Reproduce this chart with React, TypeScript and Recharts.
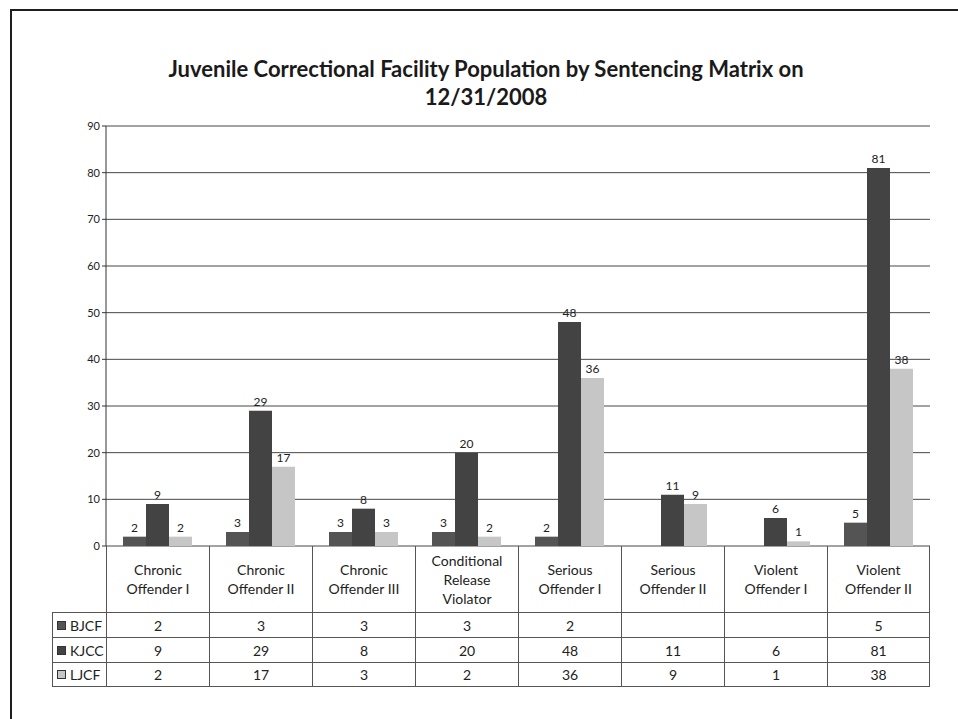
import { Bar, BarChart, CartesianGrid, LabelList, XAxis, YAxis } from 'recharts';

const categories = [
  'Chronic\nOffender I',
  'Chronic\nOffender II',
  'Chronic\nOffender III',
  'Conditional\nRelease\nViolator',
  'Serious\nOffender I',
  'Serious\nOffender II',
  'Violent\nOffender I',
  'Violent\nOffender II',
];
const bjcf = [2, 3, 3, 3, 2, null, null, 5];
const kjcc = [9, 29, 8, 20, 48, 11, 6, 81];
const ljcf = [2, 17, 3, 2, 36, 9, 1, 38];
const yTicks = [0, 10, 20, 30, 40, 50, 60, 70, 80, 90];

const series = [
  { key: 'BJCF', values: bjcf, color: '#545454' },
  { key: 'KJCC', values: kjcc, color: '#434343' },
  { key: 'LJCF', values: ljcf, color: '#c6c6c6' },
];

const data = categories.map((name, i) => ({
  name,
  BJCF: bjcf[i],
  KJCC: kjcc[i],
  LJCF: ljcf[i],
}));

// plot box (page px)
const W = 958;
const H = 719;
const plotLeft = 106;
const plotRight = 930;
const plotTop = 126;
const plotBottom = 546;
const band = (plotRight - plotLeft) / categories.length;
const legendLeft = 52;
const catRowBottom = 612;
const rowH = 25;
const font = 'Lato, "Open Sans", sans-serif';
const lineColor = '#555';

const showValue = (v: any) => (v === null || v === undefined ? '' : v);

function DataTable() {
  const cells: any[] = [];
  // category row
  categories.forEach((c, i) => {
    cells.push(
      <div
        key={'c' + i}
        style={{
          position: 'absolute',
          left: plotLeft + i * band,
          top: plotBottom,
          width: band,
          height: catRowBottom - plotBottom,
          borderLeft: `1px solid ${lineColor}`,
          borderRight: i === categories.length - 1 ? `1px solid ${lineColor}` : undefined,
          boxSizing: 'border-box',
          display: 'flex',
          alignItems: 'center',
          justifyContent: 'center',
          textAlign: 'center',
          whiteSpace: 'pre-line',
          fontSize: 14,
          lineHeight: '19px',
          color: '#222',
        }}
      >
        {c}
      </div>
    );
  });
  series.forEach((s, r) => {
    const top = catRowBottom + r * rowH;
    cells.push(
      <div
        key={'l' + r}
        style={{
          position: 'absolute',
          left: legendLeft,
          top,
          width: plotLeft - legendLeft,
          height: rowH,
          borderLeft: `1px solid ${lineColor}`,
          borderTop: `1px solid ${lineColor}`,
          borderBottom: r === series.length - 1 ? `1px solid ${lineColor}` : undefined,
          boxSizing: 'border-box',
          display: 'flex',
          alignItems: 'center',
          paddingLeft: 4,
          fontSize: 14,
          color: '#222',
        }}
      >
        <span
          style={{
            display: 'inline-block',
            width: 7,
            height: 7,
            background: s.color,
            border: '1px solid #333',
            marginRight: 4,
          }}
        />
        {s.key}
      </div>
    );
    s.values.forEach((v, i) => {
      cells.push(
        <div
          key={'v' + r + '-' + i}
          style={{
            position: 'absolute',
            left: plotLeft + i * band,
            top,
            width: band,
            height: rowH,
            borderLeft: `1px solid ${lineColor}`,
            borderTop: `1px solid ${lineColor}`,
            borderRight: i === categories.length - 1 ? `1px solid ${lineColor}` : undefined,
            borderBottom: r === series.length - 1 ? `1px solid ${lineColor}` : undefined,
            boxSizing: 'border-box',
            display: 'flex',
            alignItems: 'center',
            justifyContent: 'center',
            fontSize: 14,
            color: '#222',
          }}
        >
          {showValue(v)}
        </div>
      );
    });
  });
  return <>{cells}</>;
}

export default function App() {
  return (
    <div
      style={{
        position: 'absolute',
        left: 0,
        top: 0,
        width: W,
        height: H,
        overflow: 'hidden',
        background: '#fff',
        fontFamily: font,
      }}
    >
      <div
        style={{
          position: 'absolute',
          left: 10,
          top: 9,
          width: W + 20,
          height: H + 20,
          border: '2px solid #1e1e1e',
        }}
      />
      <div
        style={{
          position: 'absolute',
          left: 0,
          width: 972,
          top: 55,
          textAlign: 'center',
          fontSize: 22,
          fontWeight: 700,
          lineHeight: '28px',
          color: '#1a1a1a',
        }}
      >
        Juvenile Correctional Facility Population by Sentencing Matrix on
        <br />
        12/31/2008
      </div>
      <div style={{ position: 'absolute', left: 0, top: 0 }}>
        <BarChart
          width={W}
          height={H}
          data={data}
          margin={{ top: plotTop, right: W - plotRight, left: plotLeft - 40, bottom: H - plotBottom }}
          barCategoryGap={17}
          barGap={0}
        >
          <CartesianGrid vertical={false} stroke="#474747" strokeWidth={1} />
          <XAxis dataKey="name" hide />
          <YAxis
            width={40}
            domain={[0, 90]}
            ticks={yTicks}
            interval={0}
            axisLine={{ stroke: '#333' }}
            tickLine={{ stroke: '#333' }}
            tickSize={4}
            tick={{ fontSize: 11, fill: '#222', fontFamily: font }}
          />
          {series.map((s) => (
            <Bar key={s.key} dataKey={s.key} fill={s.color} isAnimationActive={false}>
              <LabelList
                dataKey={s.key}
                position="top"
                formatter={showValue}
                style={{ fontSize: 12, fill: '#222', fontFamily: font }}
              />
            </Bar>
          ))}
        </BarChart>
      </div>
      <DataTable />
    </div>
  );
}
